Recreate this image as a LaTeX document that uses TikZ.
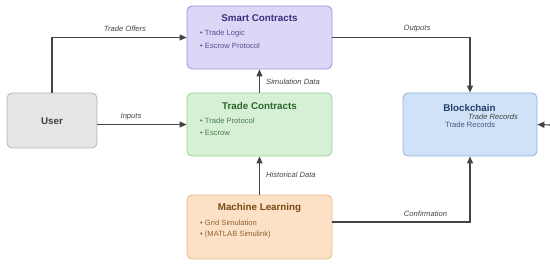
\documentclass[tikz,border=0pt]{standalone}
\usepackage{fontspec}
\setmainfont{Liberation Sans}
\usetikzlibrary{arrows.meta}
\definecolor{usrfill}{HTML}{E6E6E6}\definecolor{usrdraw}{HTML}{B3B3B3}
\definecolor{scfill}{HTML}{DCD7F7}\definecolor{scdraw}{HTML}{9C8FDD}\definecolor{sctext}{HTML}{3B2E7E}
\definecolor{tcfill}{HTML}{D6F0D6}\definecolor{tcdraw}{HTML}{96D296}\definecolor{tctext}{HTML}{2A662A}
\definecolor{mlfill}{HTML}{FCE1C6}\definecolor{mldraw}{HTML}{E8BC88}\definecolor{mltext}{HTML}{7A4A14}
\definecolor{bcfill}{HTML}{CFE2F7}\definecolor{bcdraw}{HTML}{8DB2E0}\definecolor{bctext}{HTML}{1F3E6B}
\definecolor{edgecol}{HTML}{444444}
\begin{document}
\begin{tikzpicture}[x=1pt,y=-1pt,
  box/.style={rectangle,rounded corners=5pt,line width=0.8pt,inner sep=0pt},
  ttl/.style={font=\fontsize{9.8}{11}\selectfont\bfseries,inner sep=0pt},
  itm/.style={font=\fontsize{7.6}{9}\selectfont,anchor=west,inner sep=0pt},
  elab/.style={font=\fontsize{7.6}{9}\selectfont\itshape,text=edgecol,inner sep=0pt},
  conn/.style={draw=edgecol,line width=1.1pt,-{Triangle[length=7pt,width=6pt]}}]
\useasboundingbox (0,0) rectangle (550,264);
% boxes
\node[box,fill=usrfill,draw=usrdraw,minimum width=90pt,minimum height=55pt] (user) at (52,120.5) {};
\node[box,fill=scfill,draw=scdraw,minimum width=145pt,minimum height=63pt] (smart) at (259.5,37.5) {};
\node[box,fill=tcfill,draw=tcdraw,minimum width=145pt,minimum height=63pt] (trade) at (259.5,124.5) {};
\node[box,fill=mlfill,draw=mldraw,minimum width=145pt,minimum height=64pt] (ml) at (259.5,227) {};
\node[box,fill=bcfill,draw=bcdraw,minimum width=134pt,minimum height=63pt] (bc) at (470,124.5) {};
% texts
\node[ttl,text=black!75] (usert) at (52,121) {User};
\node[ttl,text=sctext] (smartt) at (259.5,18) {Smart Contracts};
\node[itm,text=sctext!85] (smart1) at (200,34) {• Trade Logic};
\node[itm,text=sctext!85] (smart2) at (200,46) {• Escrow Protocol};
\node[ttl,text=tctext] (tradet) at (259.5,106) {Trade Contracts};
\node[itm,text=tctext!85] (trade1) at (200,121) {• Trade Protocol};
\node[itm,text=tctext!85] (trade2) at (200,133) {• Escrow};
\node[ttl,text=mltext] (mlt) at (259.5,208) {Machine Learning};
\node[itm,text=mltext!85] (ml1) at (200,223) {• Grid Simulation};
\node[itm,text=mltext!85] (ml2) at (200,235) {• (MATLAB Simulink)};
\node[ttl,text=bctext] (bct) at (469.5,108) {Blockchain};
\node[itm,text=bctext!85] (bc1) at (445,124.5) {Trade Records};
% connectors
\draw[conn] (user.north) |- (smart.west);
\draw[conn] (user.east |- trade.west) -- (trade.west);
\draw[conn] (trade.north) -- (smart.south);
\draw[conn] (ml.north) -- (trade.south);
\draw[conn] (smart.east) -| (bc.north);
\draw[conn] ([yshift=5pt]ml.east) -| (bc.south);
\coordinate (rin) at (550,125);
\draw[conn] (rin) -- (bc.east);
% labels
\node[elab] (l1) at (125,29) {Trade Offers};
\node[elab] (l2) at (131,117) {Inputs};
\node[elab,anchor=west] (l3) at (266,82) {Simulation Data};
\node[elab,anchor=west] (l4) at (266,175) {Historical Data};
\node[elab] (l5) at (417,29) {Outputs};
\node[elab] (l6) at (425.5,214) {Confirmation};
\node[elab,anchor=west] (l7) at (468,117) {Trade Records};
\end{tikzpicture}
\end{document}
